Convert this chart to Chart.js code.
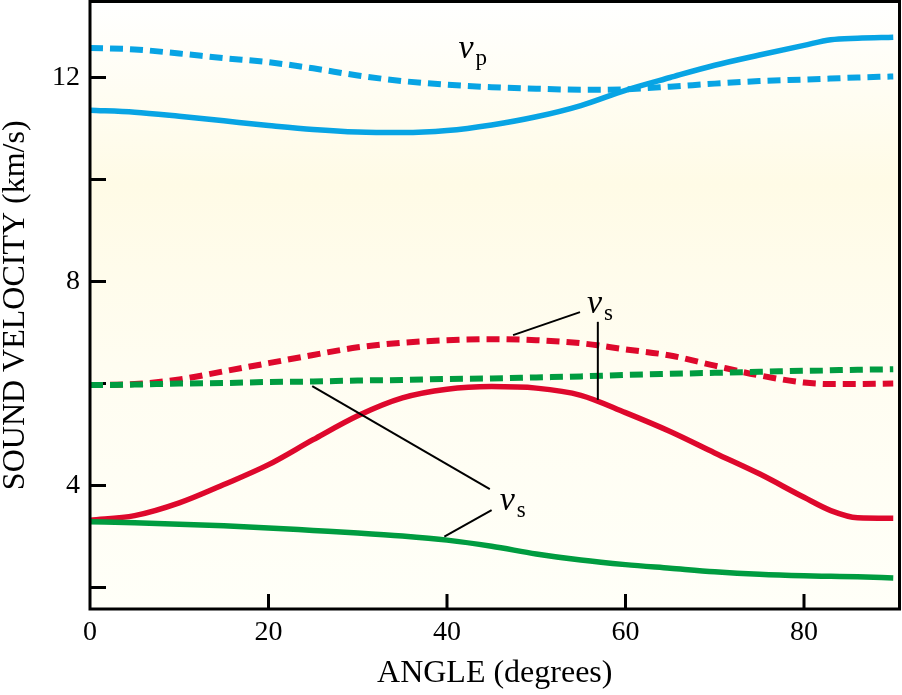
<!DOCTYPE html>
<html>
<head>
<meta charset="utf-8">
<title>Sound velocity vs angle</title>
<script src="https://cdn.jsdelivr.net/npm/chart.js@4"></script>
<style>
  html, body { margin: 0; padding: 0; background: #fff; }
  canvas { display: block; }
</style>
</head>
<body>
<canvas id="myChart" width="902" height="695"></canvas>
<script>
//////////////////// Values ////////////////////
const angles        = [0, 5, 10, 15, 20, 25, 30, 35, 40, 45, 50, 55, 60, 65, 70, 75, 80, 83, 86, 90];
const vpSolid       = [11.36, 11.32, 11.24, 11.15, 11.06, 10.98, 10.93, 10.92, 10.96, 11.07, 11.23, 11.45, 11.75, 12.00, 12.24, 12.44, 12.63, 12.74, 12.77, 12.79];
const vpDashed      = [12.58, 12.55, 12.47, 12.38, 12.30, 12.18, 12.04, 11.93, 11.86, 11.81, 11.78, 11.76, 11.77, 11.82, 11.88, 11.93, 11.96, 11.98, 12.00, 12.02];
const vsRedDashed   = [5.97, 5.99, 6.08, 6.24, 6.40, 6.56, 6.71, 6.80, 6.85, 6.87, 6.85, 6.79, 6.67, 6.55, 6.35, 6.16, 6.02, 5.99, 5.99, 6.00];
const vsGreenDashed = [5.97, 5.98, 6.00, 6.01, 6.03, 6.04, 6.06, 6.07, 6.09, 6.10, 6.12, 6.14, 6.17, 6.19, 6.21, 6.23, 6.25, 6.26, 6.27, 6.28];
const vsRedSolid    = [3.32, 3.41, 3.66, 4.02, 4.41, 4.90, 5.37, 5.72, 5.89, 5.94, 5.91, 5.77, 5.43, 5.06, 4.64, 4.23, 3.77, 3.51, 3.37, 3.36];
const vsGreenSolid  = [3.29, 3.27, 3.24, 3.21, 3.17, 3.12, 3.07, 3.01, 2.93, 2.81, 2.66, 2.54, 2.45, 2.38, 2.31, 2.26, 2.23, 2.22, 2.21, 2.19];

const xTickValues   = [0, 20, 40, 60, 80];
const xMarkValues   = [20, 40, 60, 80];
const yMarkValues   = [2, 4, 6, 8, 10, 12];
const yLabelValues  = [4, 8, 12];

// leader lines and labels, in data units [angle, velocity]
const leaderLines = [
  [[54.9, 7.40], [47.4, 6.95]],
  [[56.9, 7.21], [56.9, 5.68]],
  [[44.8, 3.93], [24.9, 5.95]],
  [[45.0, 3.52], [39.7, 3.00]]
];
const curveLabels = [
  { at: [41.3, 12.38], sub: 'p' },
  { at: [55.7, 7.38], sub: 's' },
  { at: [45.9, 3.52], sub: 's' }
];
////////////////////////////////////////////////////////////////////

const BLUE = 'rgb(8, 164, 228)';
const RED = 'rgb(222, 8, 44)';
const GREEN = 'rgb(0, 156, 64)';
const SERIF = "'Liberation Serif', 'DejaVu Serif', serif";

function pts(values) {
  return angles.map((a, i) => ({ x: a, y: values[i] }));
}

function line(values, color, dashed) {
  return {
    data: pts(values),
    borderColor: color,
    borderWidth: dashed ? 6 : 5.5,
    borderDash: dashed ? [13, 7] : [],
    pointRadius: 0,
    fill: false,
    cubicInterpolationMode: 'monotone'
  };
}

///////////// Background, inward ticks, frame, labels ///////////////
const decorations = {
  id: 'decorations',
  beforeDraw(chart) {
    const { ctx, chartArea: { left, top, right, bottom } } = chart;
    const g = ctx.createLinearGradient(0, top, 0, bottom);
    g.addColorStop(0, '#ffffff');
    g.addColorStop(0.3, '#fffbe6');
    g.addColorStop(0.6, '#fffdf1');
    g.addColorStop(1, '#fffff8');
    ctx.save();
    ctx.fillStyle = g;
    ctx.fillRect(left, top, right - left, bottom - top);
    ctx.restore();
  },
  beforeDatasetsDraw(chart) {
    const { ctx, scales: { x, y }, chartArea: { left, bottom } } = chart;
    ctx.save();
    ctx.strokeStyle = '#000';
    ctx.lineWidth = 3;
    ctx.beginPath();
    xMarkValues.forEach(v => {
      const px = x.getPixelForValue(v);
      ctx.moveTo(px, bottom);
      ctx.lineTo(px, bottom - 15);
    });
    yMarkValues.forEach(v => {
      const py = y.getPixelForValue(v);
      ctx.moveTo(left, py);
      ctx.lineTo(left + 16, py);
    });
    ctx.stroke();
    ctx.restore();
  },
  afterDatasetsDraw(chart) {
    const { ctx, scales: { x, y }, chartArea: { left, top, right, bottom } } = chart;
    ctx.save();

    // leader lines
    ctx.strokeStyle = '#000';
    ctx.lineWidth = 2;
    leaderLines.forEach(([a, b]) => {
      ctx.beginPath();
      ctx.moveTo(x.getPixelForValue(a[0]), y.getPixelForValue(a[1]));
      ctx.lineTo(x.getPixelForValue(b[0]), y.getPixelForValue(b[1]));
      ctx.stroke();
    });

    // v_p / v_s labels
    ctx.fillStyle = '#000';
    ctx.textBaseline = 'alphabetic';
    ctx.textAlign = 'left';
    curveLabels.forEach(l => {
      const px = x.getPixelForValue(l.at[0]);
      const py = y.getPixelForValue(l.at[1]);
      ctx.font = 'italic 34px ' + SERIF;
      ctx.fillText('v', px, py);
      ctx.font = '23px ' + SERIF;
      ctx.fillText(l.sub, px + 17, py + 7);
    });

    // frame
    ctx.lineWidth = 3;
    ctx.strokeRect(left, top, right - left, bottom - top);
    ctx.restore();
  }
};
////////////////////////////////////////////////////////////////////

const config = {
  type: 'line',
  data: {
    datasets: [
      line(vpDashed, BLUE, true),
      line(vpSolid, BLUE, false),
      line(vsGreenDashed, GREEN, true),
      line(vsRedDashed, RED, true),
      line(vsGreenSolid, GREEN, false),
      line(vsRedSolid, RED, false)
    ]
  },
  options: {
    responsive: false,
    animation: false,
    layout: { padding: { top: 1.5, right: 2.5, left: 0, bottom: 0 } },
    plugins: { legend: { display: false }, tooltip: { enabled: false } },
    scales: {
      x: {
        type: 'linear',
        min: 0,
        max: 90.7,
        afterBuildTicks: s => { s.ticks = xTickValues.map(v => ({ value: v })); },
        afterFit: s => { s.height = 86; },
        grid: { display: false, drawTicks: false },
        border: { display: false },
        ticks: { color: '#000', padding: 7, font: { family: SERIF, size: 28 } },
        title: {
          display: true,
          text: 'ANGLE (degrees)',
          color: '#000',
          padding: { top: 0, bottom: 2 },
          font: { family: SERIF, size: 32, lineHeight: 1.2 }
        }
      },
      y: {
        type: 'linear',
        min: 1.58,
        max: 13.49,
        afterBuildTicks: s => { s.ticks = yMarkValues.map(v => ({ value: v })); },
        afterFit: s => { s.width = 90; s.paddingTop = 0; s.paddingBottom = 0; },
        grid: { display: false, drawTicks: false },
        border: { display: false },
        ticks: {
          color: '#000',
          padding: 10,
          font: { family: SERIF, size: 28 },
          callback: v => (yLabelValues.includes(v) ? String(v) : '')
        },
        title: {
          display: true,
          text: 'SOUND VELOCITY (km/s)',
          color: '#000',
          padding: 0,
          font: { family: SERIF, size: 32, lineHeight: 0.95 }
        }
      }
    }
  },
  plugins: [decorations]
};

new Chart(document.getElementById('myChart').getContext('2d'), config);
</script>
</body>
</html>
